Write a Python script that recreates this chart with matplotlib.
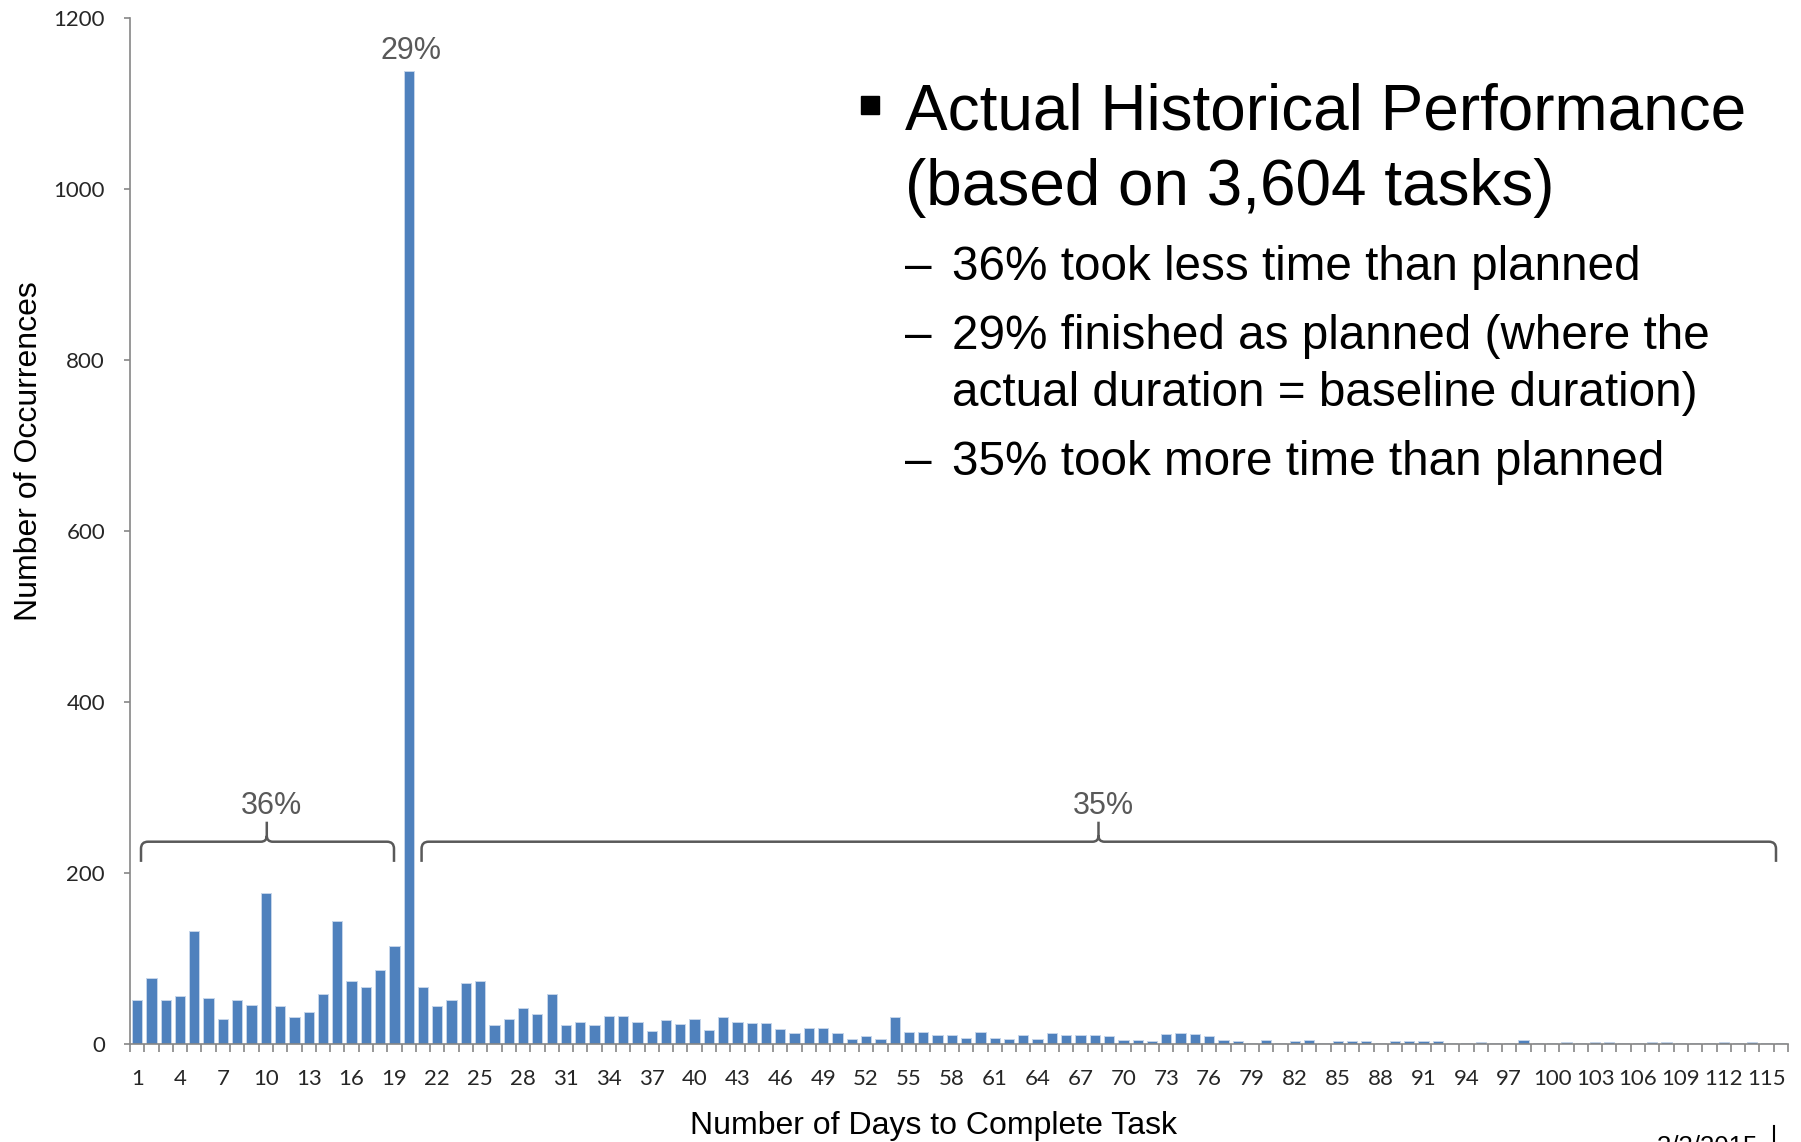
import matplotlib

matplotlib.use("Agg")
import matplotlib.pyplot as plt
from matplotlib.path import Path
from matplotlib.patches import PathPatch, Rectangle
from matplotlib.lines import Line2D

W, H = 1801, 1142
BAR_COLOR = "#4F81BD"
GREY_TEXT = "#595959"
AXIS_GREY = "#868686"
ARIAL = "Liberation Sans"

# occurrences per number of days taken to complete a task
days = list(range(1, 117))
occurrences = [
    52, 77, 51, 56, 132, 54, 29, 51, 46, 177,
    45, 32, 38, 59, 144, 74, 67, 87, 115, 1138,
    67, 45, 51, 71, 74, 22, 29, 42, 35, 58,
    22, 26, 22, 33, 33, 26, 15, 28, 23, 29,
    16, 31, 26, 25, 25, 17, 13, 19, 19, 13,
    6, 9, 6, 32, 14, 14, 10, 10, 7, 14,
    7, 6, 11, 6, 13, 10, 10, 11, 9, 5,
    5, 4, 12, 13, 12, 9, 5, 3, 1, 5,
    1, 4, 5, 1, 4, 3, 4, 1, 3, 3,
    3, 3, 1, 1, 2, 1, 1, 5, 1, 1,
    2, 1, 2, 2, 1, 1, 2, 2, 1, 1,
    1, 2, 1, 2, 1, 1,
]
y_ticks = [0, 200, 400, 600, 800, 1000, 1200]
x_tick_labels = list(range(1, 116, 3))

# share labels: (text, first day, last day, brace tip day)
on_time_label = "29%"
groups = [("36%", 1.27, 18.97, 10.07), ("35%", 20.9, 115.66, 68.26)]

headline = ["Actual Historical Performance", "(based on 3,604 tasks)"]
points = [
    ["36% took less time than planned"],
    ["29% finished as planned (where the", "actual duration = baseline duration)"],
    ["35% took more time than planned"],
]


def fx(px):
    return px / W


def fy(py):
    return 1 - py / H


def draw_brace(ax, x0, x1, xc, y_low, y_mid, y_tip, r_px=7, t_px=6):
    # corner radii are given in pixels, convert them to data units
    pos = ax.get_position()
    x_lo, x_hi = ax.get_xlim()
    y_lo, y_hi = ax.get_ylim()
    px_x = pos.width * W / (x_hi - x_lo)
    px_y = pos.height * H / (y_hi - y_lo)
    rx, ry = r_px / px_x, r_px / px_y
    tx, ty = t_px / px_x, t_px / px_y
    verts = [
        (x0, y_low), (x0, y_mid - ry), (x0, y_mid), (x0 + rx, y_mid),
        (xc - tx, y_mid), (xc, y_mid), (xc, y_mid + ty), (xc, y_tip),
        (xc, y_mid + ty), (xc, y_mid), (xc + tx, y_mid),
        (x1 - rx, y_mid), (x1, y_mid), (x1, y_mid - ry), (x1, y_low),
    ]
    codes = [
        Path.MOVETO, Path.LINETO, Path.CURVE3, Path.CURVE3,
        Path.LINETO, Path.CURVE3, Path.CURVE3, Path.LINETO,
        Path.MOVETO, Path.CURVE3, Path.CURVE3,
        Path.LINETO, Path.CURVE3, Path.CURVE3, Path.LINETO,
    ]
    ax.add_patch(
        PathPatch(Path(verts, codes), fill=False, edgecolor=GREY_TEXT,
                  linewidth=1.8, capstyle="butt", joinstyle="round",
                  clip_on=False)
    )


def main():
    fig = plt.figure(figsize=(W / 100, H / 100), dpi=100)
    ax = fig.add_axes([fx(130), fy(1044), 1658 / W, 1026 / H])

    ax.bar(days, occurrences, width=0.72, color=BAR_COLOR,
           edgecolor="#c5d5ea", linewidth=0.7)
    ax.set_xlim(0.5, 116.5)
    ax.set_ylim(0, 1200)

    for side in ("top", "right"):
        ax.spines[side].set_visible(False)
    for side in ("left", "bottom"):
        ax.spines[side].set_color(AXIS_GREY)
        ax.spines[side].set_linewidth(1.2)

    ax.set_yticks(y_ticks)
    ax.set_yticklabels([str(v) for v in y_ticks])
    ax.tick_params(axis="y", direction="out", length=4, width=1.2,
                   color=AXIS_GREY, pad=14, labelsize=16,
                   labelcolor="#262626")

    ax.set_xticks(x_tick_labels)
    ax.set_xticklabels([str(v) for v in x_tick_labels])
    ax.set_xticks([d + 0.5 for d in [0] + days], minor=True)
    ax.tick_params(axis="x", which="major", length=0, pad=18,
                   labelsize=16, labelcolor="#262626")
    ax.tick_params(axis="x", which="minor", direction="out", length=6,
                   width=1.2, color=AXIS_GREY)
    for lab in ax.get_xticklabels() + ax.get_yticklabels():
        lab.set_family("Lato")

    ax.set_xlabel("Number of Days to Complete Task", family=ARIAL,
                  fontsize=23, color="black")
    ax.xaxis.set_label_coords((933 - 130) / 1658, -(1111 - 1044) / 1026)
    fig.text(fx(29), fy(451), "Number of Occurrences", rotation=90,
             ha="center", va="center", family=ARIAL, fontsize=23)

    # on-time share above the peak bar
    peak = occurrences.index(max(occurrences))
    ax.annotate(on_time_label, (days[peak], occurrences[peak]),
                xytext=(2, 8.5), textcoords="offset points", ha="center",
                va="baseline", family=ARIAL, fontsize=22, color=GREY_TEXT)

    for label, x0, x1, xc in groups:
        draw_brace(ax, x0, x1, xc, 213, 236.6, 260)
        ax.text(xc + 0.35, 269, label, ha="center", va="baseline",
                family=ARIAL, fontsize=22, color=GREY_TEXT)

    # bullet list on the right
    fig.patches.append(
        Rectangle((fx(861), fy(114)), 18 / W, 18 / H,
                  transform=fig.transFigure, color="black")
    )
    for line, base in zip(headline, (130, 205)):
        fig.text(fx(905), fy(base), line, va="baseline", family=ARIAL,
                 fontsize=46)

    baselines = iter([280, 349, 406.5, 475])
    for point in points:
        for i, line in enumerate(point):
            base = next(baselines)
            if i == 0:
                fig.text(fx(905), fy(base), "\u2013", va="baseline",
                         family=ARIAL, fontsize=34.3)
            fig.text(fx(952), fy(base), line, va="baseline", family=ARIAL,
                     fontsize=34.3)

    # slide footer, cut off by the page edge
    fig.text(fx(1657), fy(1135), "3/3/2015", va="top", family=ARIAL,
             fontsize=18.5)
    fig.add_artist(Line2D([fx(1774), fx(1774)], [fy(1126), fy(1142)],
                          transform=fig.transFigure, color="black",
                          linewidth=1.5))

    fig.savefig("out.png", dpi=100)


if __name__ == "__main__":
    main()
